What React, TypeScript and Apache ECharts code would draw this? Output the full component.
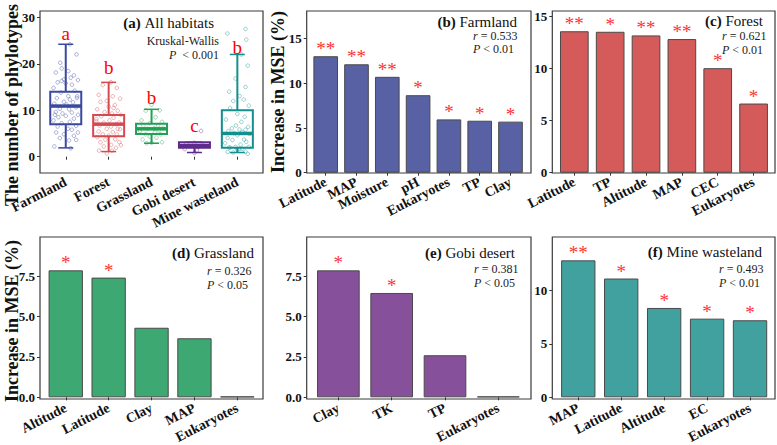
import React, { useEffect, useRef } from 'react';
import * as echarts from 'echarts';

const FONT = '"Liberation Serif", "Times New Roman", serif';

// ---------- (a) All habitats : boxplot ----------
const habitats = ['Farmland', 'Forest', 'Grassland', 'Gobi desert', 'Mine wasteland'];
const boxMin = [1.9, 1.1, 2.9, 0.9, 0.9];
const boxQ1 = [7.0, 4.4, 4.9, 1.9, 1.9];
const boxMedian = [10.9, 7.0, 6.0, 2.4, 5.0];
const boxQ3 = [14.0, 9.0, 7.1, 3.1, 10.0];
const boxMax = [24.2, 16.0, 10.2, 3.1, 22.0];
const groupLetters = ['a', 'b', 'b', 'c', 'b'];
const letterY = [26.6, 19.1, 12.8, 6.8, 23.6];
const habitatColors = ['#3A48A0', '#D64A4F', '#22A054', '#5E2B8C', '#13908E'];

// jittered observations: [offset from box centre (fraction of band), value]
const farmlandPts = [
  [0.1, 24.2], [0.25, 22.3], [-0.15, 20.5], [-0.1, 19], [0.05, 18.7], [-0.25, 18.3], [0.2, 17.5], [0.12, 17],
  [-0.05, 16.8], [0.3, 16.5], [-0.2, 16], [0.0, 15.8], [0.15, 15.5], [-0.3, 14.8], [0.22, 14.2], [-0.12, 13.8],
  [0.05, 13.3], [0.28, 13], [-0.22, 12.6], [0.1, 12.3], [-0.05, 12], [0.18, 11.7], [-0.28, 11.4], [0.02, 11.2],
  [0.25, 10.8], [-0.15, 10.5], [0.08, 10.2], [-0.25, 9.8], [0.15, 9.5], [-0.08, 9.3], [0.3, 9], [0.0, 8.8],
  [-0.18, 8.5], [0.2, 8.2], [-0.3, 7.8], [0.1, 7.5], [-0.1, 7.2], [0.25, 6.8], [-0.2, 6.5], [0.05, 6.2],
  [0.15, 5.8], [-0.25, 5.5], [0.3, 5.2], [-0.05, 5], [0.2, 4.5], [-0.15, 4.2], [0.25, 3.8], [0.08, 3.5],
  [-0.28, 2.2], [0.12, 1.8], [-0.1, 16.3], [0.27, 12.8], [-0.27, 9.2],
];
const forestPts = [
  [0.05, 16.2], [-0.15, 15.6], [0.2, 14.8], [-0.25, 13.5], [0.1, 13], [0.28, 12.5], [-0.05, 12.2], [-0.2, 11.8],
  [0.15, 11.3], [0.0, 10.8], [-0.28, 10.2], [0.22, 9.9], [-0.1, 9.6], [0.08, 9.3], [0.3, 9.0], [-0.18, 8.7],
  [0.12, 8.4], [-0.3, 8.1], [0.02, 7.8], [0.25, 7.5], [-0.12, 7.3], [0.18, 7.0], [-0.22, 6.7], [0.06, 6.5],
  [-0.05, 6.2], [0.28, 5.9], [-0.25, 5.6], [0.1, 5.3], [-0.15, 5.0], [0.2, 4.8], [0.0, 4.5], [-0.28, 4.2],
  [0.15, 4.0], [-0.08, 3.7], [0.25, 3.4], [-0.2, 3.1], [0.05, 2.8], [0.3, 2.5], [-0.12, 2.2], [0.18, 1.9],
  [-0.25, 1.6], [0.08, 1.3], [-0.05, 0.9], [0.22, 6.0], [-0.3, 7.6], [0.12, 10.5],
];
const grasslandPts = [
  [0.0, 11.2], [-0.15, 10.1], [0.2, 10.0], [0.1, 8.5], [-0.25, 8.0], [0.25, 7.7], [-0.05, 7.4], [0.15, 7.0],
  [-0.2, 6.7], [0.05, 6.4], [0.28, 6.2], [-0.1, 6.0], [0.18, 5.7], [-0.28, 5.5], [0.08, 5.2], [-0.15, 5.0],
  [0.22, 4.8], [-0.05, 4.5], [0.12, 4.1], [-0.22, 3.7], [0.25, 3.3], [0.0, 3.0], [-0.12, 2.9],
];
const gobiPts = [
  [0.15, 5.8], [0.0, 3.0], [-0.2, 2.8], [0.2, 2.6], [-0.1, 2.3], [0.1, 2.1], [-0.25, 1.9], [0.05, 1.6], [0.0, 0.8],
];
const minePts = [
  [0.2, 27.5], [-0.25, 26.7], [0.22, 25.2], [0.1, 22], [0.25, 19.8], [-0.05, 17.0], [0.2, 15.0], [-0.2, 14.0],
  [0.05, 13.2], [0.15, 12.5], [-0.1, 12.0], [0.28, 11.0], [-0.18, 10.5], [0.0, 9.2], [0.18, 8.6], [-0.28, 8.0],
  [0.1, 7.5], [-0.05, 7.0], [0.25, 6.7], [-0.15, 6.4], [0.05, 6.0], [0.2, 5.8], [-0.22, 5.5], [0.12, 5.3],
  [-0.08, 5.1], [0.3, 4.9], [0.0, 4.6], [-0.25, 4.3], [0.15, 4.0], [-0.12, 3.6], [0.22, 3.2], [-0.3, 2.9],
  [0.08, 2.6], [-0.05, 2.3], [0.28, 2.1], [-0.18, 1.9], [0.12, 1.7], [0.0, 1.5], [-0.25, 1.3], [0.2, 1.1],
  [-0.1, 0.9], [0.25, 0.8], [-0.2, 2.0], [0.05, 1.8],
];
const habitatPoints = [farmlandPts, forestPts, grasslandPts, gobiPts, minePts];

// ---------- (b)-(f) random forest importance ----------
const farmVars = ['Latitude', 'MAP', 'Moisture', 'pH', 'Eukaryotes', 'TP', 'Clay'];
const farmMSE = [13.0, 12.1, 10.7, 8.65, 5.95, 5.8, 5.7];
const farmStars = ['**', '**', '**', '*', '*', '*', '*'];

const forestVars = ['Latitude', 'TP', 'Altitude', 'MAP', 'CEC', 'Eukaryotes'];
const forestMSE = [13.6, 13.55, 13.2, 12.85, 10.05, 6.65];
const forestStars = ['**', '*', '**', '**', '*', '*'];

const grassVars = ['Altitude', 'Latitude', 'Clay', 'MAP', 'Eukaryotes'];
const grassMSE = [7.85, 7.4, 4.3, 3.65, 0.05];
const grassStars = ['*', '*', '', '', ''];

const gobiVars = ['Clay', 'TK', 'TP', 'Eukaryotes'];
const gobiMSE = [7.85, 6.45, 2.6, 0.05];
const gobiStars = ['*', '*', '', ''];

const mineVars = ['MAP', 'Latitude', 'Altitude', 'EC', 'Eukaryotes'];
const mineMSE = [12.8, 11.1, 8.35, 7.35, 7.2];
const mineStars = ['**', '*', '*', '*', '*'];

// axis ranges (last labelled tick, tick step)
const axisMax = [30, 15, 15, 7.5, 7.5, 10];
const axisStep = [10, 5, 5, 2.5, 2.5, 5];
const axisDecimals = [0, 0, 0, 1, 1, 0];

const panelTitles = ['(a)', '(b)', '(c)', '(d)', '(e)', '(f)'];
const panelNames = ['All habitats', 'Farmland', 'Forest', 'Grassland', 'Gobi desert', 'Mine wasteland'];
const statR = ['', '0.533', '0.621', '0.326', '0.381', '0.493'];
const statP = ['0.001', '0.01', '0.01', '0.05', '0.05', '0.01'];

const barPanels = [
  { vars: farmVars, vals: farmMSE, stars: farmStars, color: '#5761A3' },
  { vars: forestVars, vals: forestMSE, stars: forestStars, color: '#D55B5B' },
  { vars: grassVars, vals: grassMSE, stars: grassStars, color: '#3EA872' },
  { vars: gobiVars, vals: gobiMSE, stars: gobiStars, color: '#87509A' },
  { vars: mineVars, vals: mineMSE, stars: mineStars, color: '#40A19F' },
];

// layout: frame [x1,y1,x2,y2], category span, y pixel span of [max .. 0]
const layouts = [
  { frame: [40, 11, 263, 173], cat: [44.3, 258.8], y: [17.3, 156.7] },
  { frame: [306.7, 11, 531, 173], cat: [310.3, 525.9], y: [38.3, 172.7] },
  { frame: [552.3, 11, 775, 173], cat: [556.4, 771.5], y: [16.7, 172.7] },
  { frame: [40, 237, 263, 399], cat: [44.3, 258.8], y: [276, 397.3] },
  { frame: [306.7, 237, 531, 399], cat: [311.7, 525], y: [276, 397.3] },
  { frame: [552.3, 237, 775, 399], cat: [556.8, 771.5], y: [290.3, 397.3] },
];

const titleAnchors = [
  { x: 214, y: 23 }, { x: 517, y: 22 }, { x: 763, y: 21 },
  { x: 254, y: 253 }, { x: 515, y: 253 }, { x: 762, y: 252 },
];
const statAnchors = [
  { x: 219, y: 41, y2: 54.5, align: 'right' },
  { x: 473, y: 36, y2: 49, align: 'left' },
  { x: 722, y: 36, y2: 50, align: 'left' },
  { x: 207, y: 271, y2: 285, align: 'left' },
  { x: 474, y: 269, y2: 282.5, align: 'left' },
  { x: 719, y: 269, y2: 282.5, align: 'left' },
];

export default function App() {
  const ref = useRef<HTMLDivElement>(null);
  useEffect(() => {
    const chart = echarts.init(ref.current!, null, { renderer: 'svg' });

    const grids: any[] = [];
    const xAxes: any[] = [];
    const yAxes: any[] = [];
    const series: any[] = [];
    const graphics: any[] = [];

    const catData = [habitats, ...barPanels.map((p) => p.vars)];
    const plain = { fontFamily: FONT, fontSize: 12, fill: '#222' };
    const statRich = { n: plain, i: { ...plain, fontStyle: 'italic' } };

    layouts.forEach((L, i) => {
      grids.push({
        left: L.cat[0], top: L.y[0], width: L.cat[1] - L.cat[0], height: L.y[1] - L.y[0],
        outerBoundsMode: 'none', containLabel: false,
      });
      yAxes.push({
        gridIndex: i, type: 'value', min: 0, max: axisMax[i], interval: axisStep[i],
        offset: L.cat[0] - L.frame[0],
        axisLine: { show: false },
        axisTick: { show: true, length: 3, lineStyle: { color: '#333', width: 1 } },
        splitLine: { show: false },
        axisLabel: {
          fontFamily: FONT, fontWeight: 'bold', fontSize: 13, color: '#111', margin: 5,
          formatter: (v: number) => v.toFixed(axisDecimals[i]),
        },
      });
      xAxes.push({
        gridIndex: i, type: 'category', data: catData[i], boundaryGap: true, position: 'bottom',
        offset: L.frame[3] - L.y[1],
        axisLine: { show: false },
        axisTick: { show: true, alignWithLabel: true, length: 3, lineStyle: { color: '#333', width: 1 } },
        splitLine: { show: false },
        axisLabel: {
          rotate: 27, interval: 0, fontFamily: FONT, fontWeight: 'bold', fontSize: 14, color: '#111', margin: 8,
        },
      });
      graphics.push({
        type: 'rect', z: 50, silent: true,
        shape: { x: L.frame[0], y: L.frame[1], width: L.frame[2] - L.frame[0], height: L.frame[3] - L.frame[1] },
        style: { fill: 'none', stroke: '#3a3a3a', lineWidth: 1.2 },
      });
      const T = titleAnchors[i];
      graphics.push({
        type: 'text', z: 60, x: T.x, y: T.y,
        style: {
          text: `{b|${panelTitles[i]}}{n| ${panelNames[i]}}`,
          align: 'right', verticalAlign: 'middle', fontFamily: FONT, fontSize: 15, fill: '#111',
          rich: {
            b: { fontFamily: FONT, fontSize: 15, fontWeight: 'bold', fill: '#111' },
            n: { fontFamily: FONT, fontSize: 15, fill: '#111' },
          },
        },
      });
      const S = statAnchors[i];
      graphics.push({
        type: 'text', z: 60, x: S.x, y: S.y,
        style: {
          text: i === 0 ? '{n|Kruskal-Wallis}' : `{i|r}{n| = ${statR[i]}}`,
          align: S.align, verticalAlign: 'middle', fontFamily: FONT, fontSize: 12, fill: '#222', rich: statRich,
        },
      });
      graphics.push({
        type: 'text', z: 60, x: S.x, y: S.y2,
        style: {
          text: i === 0 ? `{i|P}{n|  < ${statP[i]}}` : `{i|P}{n| < ${statP[i]}}`,
          align: S.align, verticalAlign: 'middle', fontFamily: FONT, fontSize: 12, fill: '#222', rich: statRich,
        },
      });
    });

    // boxes
    series.push({
      type: 'custom', xAxisIndex: 0, yAxisIndex: 0, z: 3, silent: true, clip: false,
      encode: { x: 0, y: 1 },
      data: habitats.map((_, i) => [i, boxMin[i], boxQ1[i], boxMedian[i], boxQ3[i], boxMax[i]]),
      renderItem: (params: any, api: any) => {
        const idx = api.value(0);
        const lo = api.coord([idx, api.value(1)]);
        const q1 = api.coord([idx, api.value(2)]);
        const md = api.coord([idx, api.value(3)]);
        const q3 = api.coord([idx, api.value(4)]);
        const hi = api.coord([idx, api.value(5)]);
        const c = habitatColors[params.dataIndex];
        const hw = 15.5;
        const cw = 7.5;
        const x = lo[0];
        return {
          type: 'group',
          children: [
            { type: 'line', shape: { x1: x, y1: lo[1], x2: x, y2: q1[1] }, style: { stroke: c, lineWidth: 2 } },
            { type: 'line', shape: { x1: x, y1: hi[1], x2: x, y2: q3[1] }, style: { stroke: c, lineWidth: 2 } },
            { type: 'line', shape: { x1: x - cw, y1: lo[1], x2: x + cw, y2: lo[1] }, style: { stroke: c, lineWidth: 1.5 } },
            { type: 'line', shape: { x1: x - cw, y1: hi[1], x2: x + cw, y2: hi[1] }, style: { stroke: c, lineWidth: 1.5 } },
            { type: 'rect', shape: { x: x - hw, y: q3[1], width: hw * 2, height: q1[1] - q3[1] }, style: { fill: 'none', stroke: c, lineWidth: 2 } },
            { type: 'line', shape: { x1: x - hw, y1: md[1], x2: x + hw, y2: md[1] }, style: { stroke: c, lineWidth: 3.5 } },
          ],
        };
      },
    });

    // jittered points (offset measured in band widths)
    habitatPoints.forEach((pts, g) => {
      series.push({
        type: 'custom', xAxisIndex: 0, yAxisIndex: 0, z: 4, silent: true, clip: false,
        encode: { x: 0, y: 2 },
        data: pts.map((p) => [g, p[0], p[1]]),
        renderItem: (params: any, api: any) => {
          const pt = api.coord([api.value(0), api.value(2)]);
          const band = api.size([1, 0])[0];
          return {
            type: 'circle',
            shape: { cx: pt[0] + api.value(1) * band * 0.95, cy: pt[1], r: 1.8 },
            style: { fill: 'none', stroke: habitatColors[g], lineWidth: 0.7, opacity: 0.6 },
          };
        },
      });
    });

    // significance letters
    series.push({
      type: 'custom', xAxisIndex: 0, yAxisIndex: 0, z: 5, silent: true, clip: false,
      encode: { x: 0, y: 1 },
      data: letterY.map((y, i) => [i, y]),
      renderItem: (params: any, api: any) => {
        const pt = api.coord([api.value(0), api.value(1)]);
        return {
          type: 'text', x: pt[0], y: pt[1],
          style: {
            text: groupLetters[params.dataIndex], fill: '#FF0000', fontFamily: FONT, fontSize: 19,
            align: 'center', verticalAlign: 'middle',
          },
        };
      },
    });

    barPanels.forEach((bp, k) => {
      const idx = k + 1;
      series.push({
        type: 'bar', xAxisIndex: idx, yAxisIndex: idx, clip: false, silent: true,
        barWidth: '80%',
        data: bp.vals,
        itemStyle: { color: bp.color, borderColor: '#4a4a4a', borderWidth: 1 },
        label: {
          show: true, position: 'top', distance: -2, fontFamily: FONT, fontSize: 19, color: '#FF3333',
          formatter: (p: any) => bp.stars[p.dataIndex],
        },
      });
    });

    const yTitleStyle = { align: 'center', verticalAlign: 'middle', fontFamily: FONT, fontSize: 18, fontWeight: 'bold', fill: '#111' };
    graphics.push({ type: 'text', x: 12, y: 105, rotation: Math.PI / 2, style: { ...yTitleStyle, text: 'The number of phylotypes' } });
    graphics.push({ type: 'text', x: 278, y: 92, rotation: Math.PI / 2, style: { ...yTitleStyle, text: 'Increase in MSE (%)' } });
    graphics.push({ type: 'text', x: 12, y: 321, rotation: Math.PI / 2, style: { ...yTitleStyle, text: 'Increase in MSE (%)' } });

    chart.setOption({
      animation: false,
      backgroundColor: '#ffffff',
      grid: grids,
      xAxis: xAxes,
      yAxis: yAxes,
      series,
      graphic: { elements: graphics },
    });
    return () => chart.dispose();
  }, []);
  return <div ref={ref} style={{ position: 'fixed', left: 0, top: 0, width: 777, height: 445, background: '#fff' }} />;
}
